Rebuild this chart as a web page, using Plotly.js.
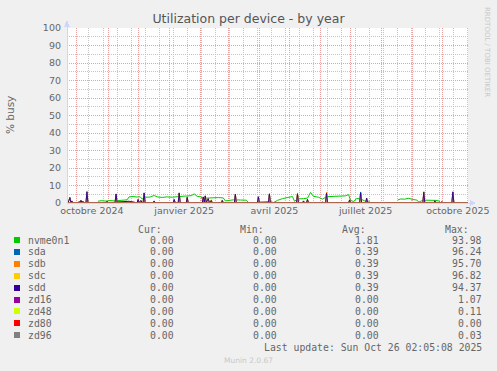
<!DOCTYPE html>
<html><head><meta charset="utf-8">
<script src="https://cdn.plot.ly/plotly-3.0.1.min.js"></script>
<style>html,body{margin:0;padding:0;background:#F0F0F0;}#chart{width:497px;height:371px;}
#chart .shapelayer path{shape-rendering:crispEdges;}</style>
</head><body><div id="chart"></div>
<script>
// ---------- DATA ----------
const seriesNames  = ['nvme0n1','sda','sdb','sdc','sdd','zd16','zd48','zd80','zd96'];
const seriesColors = ['#00CC00','#0066B3','#FF8000','#FFCC00','#330099','#990099','#CCFF00','#FF0000','#808080'];
const legendCur = ['0.00','0.00','0.00','0.00','0.00','0.00','0.00','0.00','0.00'];
const legendMin = ['0.00','0.00','0.00','0.00','0.00','0.00','0.00','0.00','0.00'];
const legendAvg = ['1.81','0.39','0.39','0.39','0.39','0.00','0.00','0.00','0.00'];
const legendMax = ['93.98','96.24','95.70','96.82','94.37','1.07','0.11','0.00','0.03'];

const xTickVals  = ['2024-10-01','2025-01-01','2025-04-01','2025-07-01','2025-10-01'];
const xTickText  = ['octobre 2024','janvier 2025','avril 2025','juillet 2025','octobre 2025'];
const xRange = ['2024-09-21 02:05','2025-10-26 02:05'];

const nvmeDates = ['2024-10-22','2024-10-25','2024-10-30','2024-11-03','2024-11-07','2024-11-11','2024-11-16','2024-11-20',
 '2024-11-22','2024-11-26','2024-11-30','2024-12-03','2024-12-05','2024-12-08','2024-12-13','2024-12-17','2024-12-20',
 '2024-12-25','2024-12-30','2025-01-04','2025-01-09','2025-01-14','2025-01-19','2025-01-23','2025-01-26','2025-01-29',
 '2025-02-02','2025-02-04','2025-02-07','2025-02-13','2025-02-19','2025-02-24','2025-02-26','2025-03-02','2025-03-06',
 '2025-03-13','2025-03-19','2025-03-21','2025-03-22','2025-03-30','2025-04-05','2025-04-12','2025-04-15','2025-04-19',
 '2025-04-24','2025-04-29','2025-05-02','2025-05-04','2025-05-06','2025-05-09','2025-05-15','2025-05-19','2025-05-22',
 '2025-05-25','2025-05-30','2025-06-03','2025-06-07','2025-06-14','2025-06-21','2025-06-26','2025-06-29','2025-07-01',
 '2025-07-04','2025-07-07','2025-07-11','2025-07-15','2025-07-19','2025-07-21','2025-07-22','2025-08-17','2025-08-20',
 '2025-08-24','2025-08-28','2025-09-01','2025-09-05','2025-09-07','2025-09-10','2025-09-14','2025-09-19','2025-09-24',
 '2025-09-27','2025-09-29'];
const nvmeVals = [1.0,1.3,1.1,1.4,1.2,1.5,1.7,1.8,
 3.5,3.7,3.4,3.6,2.3,3.3,3.4,4.3,3.5,
 3.2,3.5,3.3,3.6,3.9,4.0,4.2,5.2,3.8,
 3.5,1.6,2.8,3.0,3.1,2.9,1.2,1.5,1.8,
 1.7,1.6,0.2,null,0.5,0.8,0.9,0.2,1.5,
 2.5,3.2,3.6,3.7,1.0,2.3,2.5,2.8,6.0,
 3.8,3.3,2.2,3.6,3.8,3.9,4.1,4.8,1.5,
 0.8,2.6,2.3,1.2,1.0,0.2,null,1.7,2.3,
 2.2,2.7,2.0,1.7,0.5,1.3,1.6,1.7,1.5,
 1.2,0.0];

const sdDates = ['2024-09-21','2024-09-22','2024-09-23','2024-09-24','2024-09-25','2024-09-26','2024-09-27',
 '2024-10-02','2024-10-03','2024-10-04','2024-10-05','2024-10-06','2024-10-07','2024-10-08',
 '2024-10-10','2024-10-11','2024-10-12','2024-10-30','2024-10-31','2024-11-01',
 '2024-11-08','2024-11-09','2024-11-10','2024-11-15','2024-11-22','2024-11-27','2024-11-30',
 '2024-12-01','2024-12-02','2024-12-04','2024-12-05','2024-12-06','2024-12-07','2024-12-08',
 '2024-12-16','2024-12-17','2024-12-18','2025-01-05','2025-01-06','2025-01-07',
 '2025-01-10','2025-01-11','2025-01-12','2025-01-18','2025-01-19','2025-01-20',
 '2025-02-03','2025-02-04','2025-02-05','2025-02-06','2025-02-07','2025-02-09','2025-02-10','2025-02-12','2025-02-13',
 '2025-02-22','2025-02-23','2025-02-24','2025-03-07','2025-03-08','2025-03-09',
 '2025-03-30','2025-03-31','2025-04-01','2025-04-10','2025-04-11','2025-04-12',
 '2025-05-08','2025-05-09','2025-05-10','2025-05-14','2025-05-15','2025-05-16',
 '2025-05-18','2025-05-19','2025-05-20','2025-06-02','2025-06-03','2025-06-04',
 '2025-06-06','2025-06-07','2025-06-08','2025-06-29','2025-06-30','2025-07-01',
 '2025-07-10','2025-07-11','2025-07-12','2025-07-16','2025-07-17','2025-07-18',
 '2025-09-11','2025-09-12','2025-09-13','2025-09-22','2025-09-23','2025-09-24',
 '2025-09-29','2025-09-30','2025-10-01','2025-10-10','2025-10-11','2025-10-12','2025-10-26'];
const sddVals = [0,0,1.5,2.8,0.4,1.2,0, 0,0.8,0.3,1.5,0.4,1.0,0, 0,6.3,0, 0,1.0,0,
 0,5.2,0.5,0.8,1.0,0.4,0, 2.0,0.3,1.4,0, 0,5.8,0, 0,1.2,0, 0,2.0,0.2, 0,5.8,0, 0,3.2,0,
 0,3.5,0.5,4.0,0.3,2.5,0.2,1.5,0, 0,1.5,0, 0,5.0,0, 0,3.6,0, 0,5.3,0, 0,5.3,0, 0,1.2,0,
 0,2.0,0, 0,0.6,0, 0,5.6,0, 0,1.8,0, 0,5.8,0, 0,2.7,0, 0,6.2,0, 0,1.3,0, 0,0.8,0, 0,6.4,0, 0];
const sdaVals = [0,0,1.4,3.4,0.4,1.1,0, 0,0.7,0.3,1.4,0.4,0.9,0, 0,6.0,0, 0,0.9,0,
 0,5.0,0.5,0.7,0.9,0.4,0, 1.9,0.3,1.3,0, 0,5.6,0, 0,1.1,0, 0,1.9,0.2, 0,5.6,0, 0,3.1,0,
 0,3.3,0.5,3.8,0.3,2.4,0.2,1.4,0, 0,1.4,0, 0,4.8,0, 0,3.4,0, 0,5.1,0, 0,5.1,0, 0,1.1,0,
 0,1.9,0, 0,0.5,0, 0,5.4,0, 0,1.7,0, 0,6.3,0, 0,2.6,0, 0,6.0,0, 0,1.2,0, 0,0.7,0, 0,6.2,0, 0];
const sdbVals = [0,0,1.4,2.6,0.4,1.1,0, 0,0.7,0.3,1.4,0.4,1.1,0, 0,6.9,0, 0,0.9,0,
 0,5.0,0.5,0.7,0.9,0.4,0, 1.9,0.3,1.3,0, 0,5.6,0, 0,1.1,0, 0,1.9,0.2, 0,5.6,0, 0,3.1,0,
 0,3.3,0.5,4.3,0.3,2.4,0.2,1.4,0, 0,1.4,0, 0,4.8,0, 0,3.4,0, 0,5.1,0, 0,5.1,0, 0,1.1,0,
 0,1.9,0, 0,0.5,0, 0,6.1,0, 0,1.7,0, 0,5.6,0, 0,2.6,0, 0,6.0,0, 0,1.2,0, 0,0.7,0, 0,6.2,0, 0];
const sdcVals = [0,0,1.4,2.6,0.4,1.1,0, 0,0.7,0.3,1.4,0.4,0.9,0, 0,6.1,0, 0,0.9,0,
 0,5.0,0.5,0.7,0.9,0.4,0, 1.9,0.3,1.3,0, 0,5.6,0, 0,1.1,0, 0,1.9,0.2, 0,5.6,0, 0,3.1,0,
 0,3.3,0.5,3.8,0.3,2.4,0.2,1.9,0, 0,1.8,0, 0,4.8,0, 0,3.4,0, 0,5.1,0, 0,5.8,0, 0,1.1,0,
 0,1.9,0, 0,1.0,0, 0,5.4,0, 0,1.7,0, 0,5.6,0, 0,2.6,0, 0,6.7,0, 0,1.2,0, 0,0.7,0, 0,6.2,0, 0];

const zdDates  = ['2024-09-21','2025-10-26'];
const zd16Vals = [0,0];
const zd48Vals = [0,0];
const zd80Vals = [0,0];
const zd96Vals = [0,0];

// ---------- GEOMETRY HELPERS ----------
const W=497,H=371,L=67,R=29,T=28,B=168;
const PW=W-L-R, PH=H-T-B;
const X = px => (px-L)/PW;
const Y = py => (H-B-py)/PH;
const yRange = [0,100];

const AXIS='#CFD6F8', FONTC='#666666';
const MGRID='#E8A0A0', GRID='#C4C4C4';
const DASH='1px,1px';

const xs = [nvmeDates, sdDates, sdDates, sdDates, sdDates, zdDates, zdDates, zdDates, zdDates];
const ys = [nvmeVals, sdaVals, sdbVals, sdcVals, sddVals, zd16Vals, zd48Vals, zd80Vals, zd96Vals];
const traces = seriesNames.map((n,i)=>({
  type:'scatter', mode:'lines', name:n, x:xs[i], y:ys[i],
  line:{color:seriesColors[i], width:1}, connectgaps:false, hoverinfo:'skip', showlegend:false
}));

const ann = [];
const shapes = [];

// ---------- VERTICAL GRID (computed from the axis range) ----------
const iso = d => d.toISOString().slice(0,10);
const rStart = new Date(xRange[0].replace(' ','T')+'Z'), rEnd = new Date(xRange[1].replace(' ','T')+'Z');
const vline = (d,c) => ({type:'line',xref:'x',yref:'y',x0:iso(d),x1:iso(d),y0:yRange[0],y1:yRange[1],
    line:{color:c,width:1,dash:DASH},layer:'below'});
for(let d=new Date(Date.UTC(2024,9,13)); d<=rEnd; d=new Date(d.getTime()+14*86400000)){
  if(d>=rStart) shapes.push(vline(d,GRID));
}
for(let d=new Date(Date.UTC(rStart.getUTCFullYear(),rStart.getUTCMonth()+1,1)); d<=rEnd; d=new Date(Date.UTC(d.getUTCFullYear(),d.getUTCMonth()+1,1))){
  shapes.push(vline(d,MGRID));
}

// ---------- LEGEND / TEXT ----------
const mono = {family:'DejaVu Sans Mono', size:9.8, color:FONTC};
function txt(px,py,text,anchor,font,extra){
  ann.push(Object.assign({xref:'paper',yref:'paper',x:X(px),y:Y(py),text:text,showarrow:false,
    xanchor:anchor,yanchor:'middle',font:font,borderpad:0},extra||{}));
}
txt(163,229,'Cur:','right',mono); txt(265,229,'Min:','right',mono);
txt(367,229,'Avg:','right',mono); txt(470,229,'Max:','right',mono);
seriesNames.forEach((n,i)=>{
  const yy = 240 + i*11.9;
  shapes.push({type:'rect',xref:'paper',yref:'paper',x0:X(14),x1:X(20),y0:Y(yy-3),y1:Y(yy+3),
    fillcolor:seriesColors[i],line:{width:0},layer:'above'});
  txt(27,yy,n,'left',mono);
  txt(175,yy,legendCur[i],'right',mono);
  txt(278,yy,legendMin[i],'right',mono);
  txt(380,yy,legendAvg[i],'right',mono);
  txt(483,yy,legendMax[i],'right',mono);
});
txt(483,347.6,'Last update: Sun Oct 26 02:05:08 2025','right',mono);
txt(248,360.3,'Munin 2.0.67','center',{family:'DejaVu Sans',size:7.5,color:'#C8C8C8'});
txt(10,115,'% busy','center',{family:'DejaVu Sans',size:10.5,color:FONTC},{textangle:-90});
txt(487,52,'RRDTOOL / TOBI OETIKER','center',{family:'DejaVu Sans',size:7,color:'#C8C8C8'},{textangle:90});

// axis lines & arrows
shapes.push({type:'line',xref:'paper',yref:'paper',x0:X(67),x1:X(67),y0:Y(203),y1:Y(24),line:{color:AXIS,width:1},layer:'above'});
shapes.push({type:'path',xref:'paper',yref:'paper',path:`M ${X(64)} ${Y(27)} L ${X(70)} ${Y(27)} L ${X(67)} ${Y(20)} Z`,fillcolor:AXIS,line:{color:AXIS,width:0},layer:'above'});
shapes.push({type:'line',xref:'paper',yref:'paper',x0:X(67),x1:X(472),y0:Y(203),y1:Y(203),line:{color:AXIS,width:1},layer:'above'});
shapes.push({type:'path',xref:'paper',yref:'paper',path:`M ${X(470)} ${Y(200)} L ${X(470)} ${Y(206)} L ${X(476)} ${Y(203)} Z`,fillcolor:AXIS,line:{color:AXIS,width:0},layer:'above'});

const layout = {
  width:W, height:H, margin:{l:L,r:R,t:T,b:B,pad:0},
  paper_bgcolor:'#F0F0F0', plot_bgcolor:'#FFFFFF',
  font:{family:'DejaVu Sans', size:9.5, color:FONTC},
  title:{text:'Utilization per device - by year', font:{family:'DejaVu Sans',size:12.5,color:'#555555'},
    xref:'container', x:0.5, xanchor:'center', yref:'container', y:1-19/H, yanchor:'middle'},
  showlegend:false,
  xaxis:{type:'date', range:xRange, tickmode:'array', tickvals:xTickVals, ticktext:xTickText,
    ticklabelshift:15, ticks:'', showgrid:false, zeroline:false, showline:false,
    tickfont:{family:'DejaVu Sans',size:9.5,color:FONTC}, fixedrange:true},
  yaxis:{range:yRange, tickmode:'linear', tick0:0, dtick:10, ticks:'', ticklabelstandoff:5,
    showgrid:true, gridcolor:MGRID, griddash:DASH, gridwidth:1, zeroline:false, showline:false,
    minor:{dtick:5, tick0:0, showgrid:true, gridcolor:GRID, griddash:DASH, gridwidth:1, ticks:''},
    tickfont:{family:'DejaVu Sans',size:9.5,color:FONTC}, fixedrange:true},
  annotations:ann, shapes:shapes
};
Plotly.newPlot('chart', traces, layout, {staticPlot:true, displayModeBar:false});
</script></body></html>
